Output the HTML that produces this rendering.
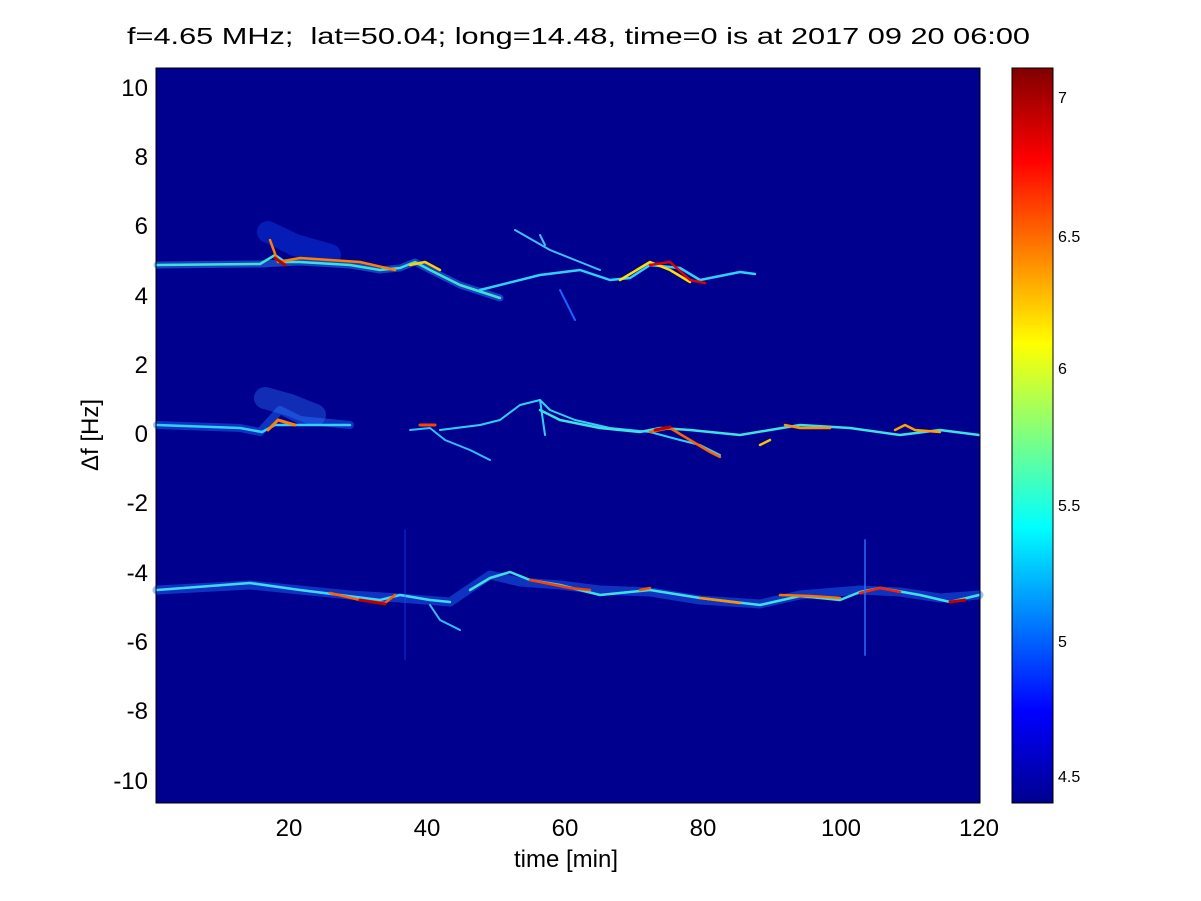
<!DOCTYPE html>
<html><head><style>
body{margin:0;background:#fff;}
svg{display:block;font-family:"Liberation Sans",sans-serif;}
</style></head><body>
<svg width="1201" height="901" viewBox="0 0 1201 901">
<defs>
<linearGradient id="jet" x1="0" y1="1" x2="0" y2="0">
<stop offset="0" stop-color="#00008f"/>
<stop offset="0.125" stop-color="#0000ff"/>
<stop offset="0.375" stop-color="#00ffff"/>
<stop offset="0.625" stop-color="#ffff00"/>
<stop offset="0.875" stop-color="#ff0000"/>
<stop offset="1" stop-color="#800000"/>
</linearGradient>
</defs>
<text x="127" y="44" font-size="23.5" textLength="903" lengthAdjust="spacingAndGlyphs" style="white-space:pre" xml:space="preserve">f=4.65 MHz;  lat=50.04; long=14.48, time=0 is at 2017 09 20 06:00</text>
<rect x="156" y="68" width="824" height="735" fill="#00008f"/>
<g fill="none" stroke-linecap="round" stroke-linejoin="round">
<path d="M157,265 L260,264 L300,262 L350,265 L380,270 L400,268 L415,262 L430,270 L460,285 L500,298" stroke="#3090ff" stroke-width="7" opacity="0.45"/>
<path d="M268,232 L295,245 L330,255" stroke="#1050ff" stroke-width="22" opacity="0.35"/>
<path d="M157,265 L260,264 L275,255 L285,262 L300,262 L350,265 L380,270 L400,268 L415,262 L430,270 L460,285 L500,298" stroke="#40e0d0" stroke-width="2.5"/>
<path d="M270,240 L278,262 L300,258 L360,262 L395,270" stroke="#ff8000" stroke-width="2.5"/>
<path d="M275,258 L285,265" stroke="#c00000" stroke-width="3"/>
<path d="M410,265 L425,262 L440,270" stroke="#ffd000" stroke-width="2.5"/>
<path d="M480,290 L540,275 L580,270 L610,280 L630,278 L650,265 L680,268 L700,280 L740,272 L755,274" stroke="#30d0ff" stroke-width="2.5"/>
<path d="M620,280 L650,262 L670,270 L690,282" stroke="#ffe000" stroke-width="2.5"/>
<path d="M650,265 L670,262 L690,280 L705,283" stroke="#e00000" stroke-width="2.5"/>
<path d="M515,230 L550,250 L580,262 L600,270" stroke="#40c0ff" stroke-width="2"/>
<path d="M540,235 L545,245" stroke="#40c0ff" stroke-width="2"/>
<path d="M560,290 L575,320" stroke="#2060ff" stroke-width="2"/>
<path d="M157,425 L240,428 L260,432 L280,410 L300,420 L350,425" stroke="#2070ff" stroke-width="8" opacity="0.45"/>
<path d="M265,398 L290,405 L315,415" stroke="#3080ff" stroke-width="22" opacity="0.35"/>
<path d="M157,425 L240,428 L262,432 L275,425 L300,425 L350,425" stroke="#30d0ff" stroke-width="2.5"/>
<path d="M268,430 L278,420 L295,425" stroke="#ff8000" stroke-width="3"/>
<path d="M410,430 L430,428 L445,440 L470,450 L490,460" stroke="#30c0ff" stroke-width="2"/>
<path d="M420,425 L435,425" stroke="#ff4000" stroke-width="3"/>
<path d="M440,430 L480,425 L500,420 L520,405 L540,400 L550,410 L575,420 L610,428 L650,432 L680,440 L700,445 L720,455" stroke="#30d0ff" stroke-width="2"/>
<path d="M540,410 L560,420 L600,428 L640,432 L660,428 L690,430 L740,435 L770,430 L800,425 L850,428 L900,435 L940,430 L979,435" stroke="#40e0e0" stroke-width="2.5"/>
<path d="M650,432 L670,428 L690,440 L710,452 L720,457" stroke="#ff6000" stroke-width="2.5"/>
<path d="M655,430 L670,427" stroke="#c00000" stroke-width="3"/>
<path d="M760,445 L770,440" stroke="#ffc000" stroke-width="2.5"/>
<path d="M785,425 L800,428 L830,428" stroke="#ff9000" stroke-width="2.5"/>
<path d="M895,430 L905,425 L915,430 L940,432" stroke="#ffa000" stroke-width="2.5"/>
<path d="M540,400 L545,435" stroke="#30d0ff" stroke-width="2"/>
<path d="M157,590 L250,585 L300,590 L350,595 L400,598 L450,602 L490,575 L520,582 L560,585 L600,590 L650,592 L700,600 L760,604 L800,595 L860,590 L900,592 L940,598 L979,595" stroke="#2070ff" stroke-width="9" opacity="0.45"/>
<path d="M157,590 L250,583 L300,590 L340,595 L380,600 L400,595 L430,600 L450,602" stroke="#40d8ff" stroke-width="2.5"/>
<path d="M330,593 L360,600 L385,603 L395,595" stroke="#ff6000" stroke-width="2.5"/>
<path d="M360,600 L385,604" stroke="#c00000" stroke-width="3"/>
<path d="M430,605 L440,620 L460,630" stroke="#30c0ff" stroke-width="2"/>
<path d="M470,590 L490,578 L510,572 L530,580 L560,585 L580,590 L600,595 L650,590 L700,598 L760,605 L800,596 L840,600 L860,592 L880,588 L920,595 L950,602 L979,595" stroke="#40e0e0" stroke-width="2.5"/>
<path d="M530,580 L570,588 L590,590" stroke="#ff4000" stroke-width="2.5"/>
<path d="M640,590 L650,588" stroke="#ff5000" stroke-width="2.5"/>
<path d="M700,598 L740,603" stroke="#ff9000" stroke-width="2.5"/>
<path d="M780,595 L810,596 L840,598" stroke="#ff7000" stroke-width="2.5"/>
<path d="M860,593 L880,588 L900,592" stroke="#ff2000" stroke-width="2.5"/>
<path d="M950,602 L965,600" stroke="#c00000" stroke-width="3"/>
<path d="M865,540 L865,655" stroke="#3070ff" stroke-width="2" opacity="0.7"/>
<path d="M405,530 L405,660" stroke="#2050ff" stroke-width="1" opacity="0.6"/>
</g>
<rect x="156" y="68" width="824" height="735" fill="none" stroke="#000" stroke-width="1"/>
<g font-size="24" text-anchor="end">
<text x="148" y="96">10</text><text x="148" y="165">8</text><text x="148" y="234">6</text>
<text x="148" y="304">4</text><text x="148" y="373">2</text><text x="148" y="442">0</text>
<text x="148" y="511">-2</text><text x="148" y="581">-4</text><text x="148" y="650">-6</text>
<text x="148" y="719">-8</text><text x="148" y="789">-10</text>
</g>
<g font-size="24" text-anchor="middle">
<text x="289" y="836">20</text><text x="427" y="836">40</text><text x="565" y="836">60</text>
<text x="703" y="836">80</text><text x="841" y="836">100</text><text x="979" y="836">120</text>
<text x="566" y="867">time [min]</text>
</g>
<text transform="translate(98,435) rotate(-90)" font-size="24" text-anchor="middle">Δf [Hz]</text>
<rect x="1012" y="68" width="41" height="735" fill="url(#jet)" stroke="#000" stroke-width="1"/>
<g font-size="16">
<text x="1058" y="103">7</text><text x="1058" y="242">6.5</text><text x="1058" y="374">6</text>
<text x="1058" y="511">5.5</text><text x="1058" y="647">5</text><text x="1058" y="782">4.5</text>
</g>
</svg>
</body></html>
